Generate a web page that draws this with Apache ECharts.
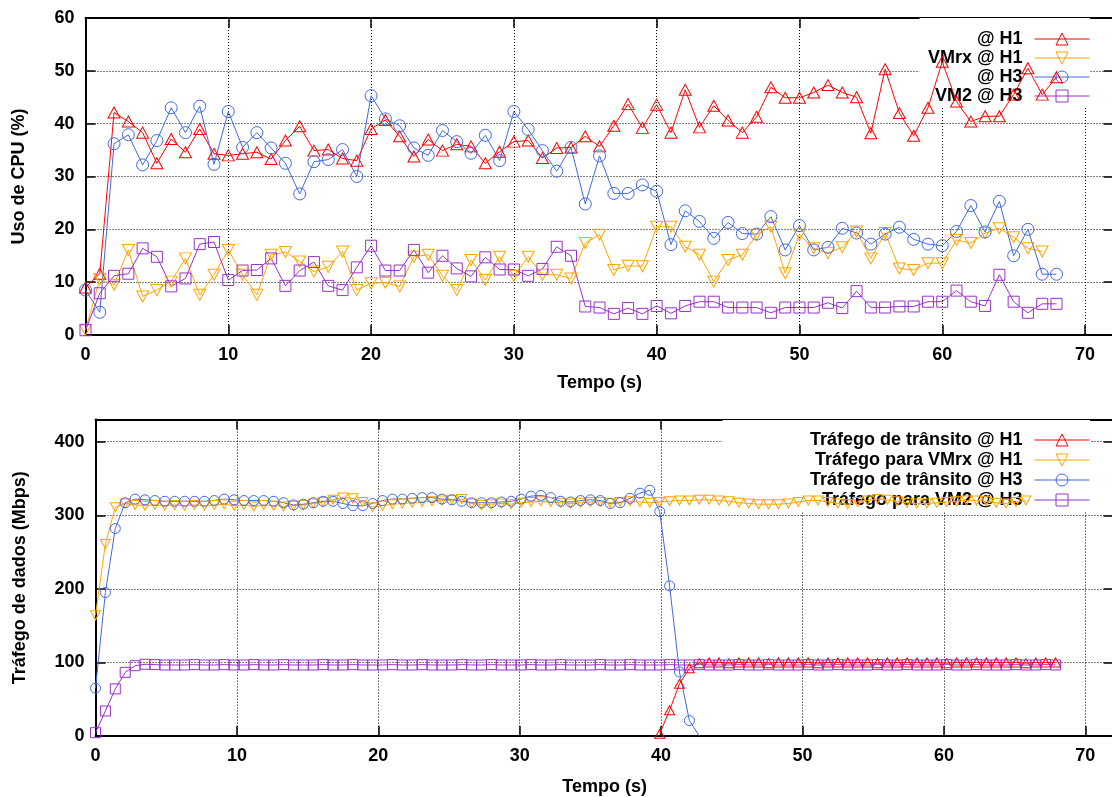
<!DOCTYPE html>
<html>
<head>
<meta charset="utf-8">
<script src="https://cdn.jsdelivr.net/npm/echarts@6/dist/echarts.min.js"></script>
<style>
  html, body { margin: 0; padding: 0; overflow: hidden; background: #fff; }
  #main { width: 1120px; height: 797px; }
</style>
</head>
<body>
<div id="main"></div>
<script>
// ---- CPU usage per second (top panel) ----
const cpuTime = [0,1,2,3,4,5,6,7,8,9,10,11,12,13,14,15,16,17,18,19,20,21,22,23,24,25,26,27,28,29,30,31,32,33,34,35,36,37,38,39,40,41,42,43,44,45,46,47,48,49,50,51,52,53,54,55,56,57,58,59,60,61,62,63,64,65,66,67,68];
const cpuH1 = [9.0,11.6,42.1,40.4,38.3,32.5,37.1,34.6,39.0,34.3,34.0,34.3,34.6,33.3,36.8,39.5,34.9,35.1,33.4,33.0,39.0,40.7,37.6,33.8,37.0,34.9,36.1,35.7,32.5,34.7,36.6,36.8,33.5,35.4,35.5,37.6,35.7,39.6,43.7,39.2,43.6,38.3,46.4,39.3,43.4,40.6,38.3,41.3,46.9,44.9,44.9,45.9,47.3,45.9,45.0,38.2,50.3,42.0,37.7,43.0,51.7,44.2,40.4,41.4,41.4,45.5,50.5,45.5,48.8];
const cpuVMrxH1 = [1.0,10.6,9.5,16.1,7.3,8.5,10.1,14.5,7.6,11.4,16.1,11.4,7.6,15.2,15.7,13.9,12.0,12.9,15.8,8.5,9.8,9.9,9.2,14.8,15.2,11.2,8.5,14.2,10.4,14.8,11.2,14.8,11.4,11.4,10.7,17.4,19.0,12.3,13.1,13.0,20.5,20.5,16.7,15.2,10.1,14.2,15.2,19.0,20.5,11.7,19.0,16.4,15.5,16.6,19.6,14.5,19.3,12.6,12.3,13.6,13.6,18.0,17.4,19.3,20.2,18.5,16.4,15.8];
const cpuH3 = [8.5,4.3,36.2,37.9,32.2,36.8,43.0,38.3,43.3,32.3,42.3,35.5,38.3,35.4,32.5,26.7,32.8,33.2,35.1,30.0,45.3,40.9,39.6,35.4,34.0,38.7,36.6,34.4,37.8,33.0,42.3,38.9,34.9,31.0,35.5,24.8,33.9,26.8,26.8,28.4,27.2,17.1,23.5,21.5,18.3,21.3,19.2,19.1,22.4,16.1,20.7,16.1,16.6,20.2,19.3,17.2,19.1,20.4,18.1,17.2,16.9,19.6,24.5,19.5,25.3,15.0,20.0,11.5,11.5];
const cpuVM2H3 = [0.9,7.9,11.2,11.6,16.4,14.8,9.2,10.7,17.2,17.6,10.4,12.2,12.3,14.5,9.3,12.2,13.8,9.3,8.5,12.8,16.9,12.2,12.2,16.1,11.8,15.0,12.6,11.1,14.7,12.4,12.4,11.2,12.5,16.7,15.0,5.4,5.2,4.0,5.1,4.0,5.5,4.1,5.5,6.3,6.3,5.2,5.2,5.2,4.2,5.2,5.2,5.2,6.1,5.1,8.3,5.2,5.2,5.4,5.4,6.3,6.3,8.4,6.3,5.5,11.4,6.3,4.2,5.9,5.9];
const cpuNames = ['@ H1', 'VMrx @ H1', '@ H3', 'VM2 @ H3'];

// ---- Data traffic (bottom panel), samples every 0.7 s ----
const trafTime = [0,0.7,1.4,2.1,2.8,3.5,4.2,4.9,5.6,6.3,7,7.7,8.4,9.1,9.8,10.5,11.2,11.9,12.6,13.3,14,14.7,15.4,16.1,16.8,17.5,18.2,18.9,19.6,20.3,21,21.7,22.4,23.1,23.8,24.5,25.2,25.9,26.6,27.3,28,28.7,29.4,30.1,30.8,31.5,32.2,32.9,33.6,34.3,35,35.7,36.4,37.1,37.8,38.5,39.2,39.9,40.6,41.3,42,42.7,43.4,44.1,44.8,45.5,46.2,46.9,47.6,48.3,49,49.7,50.4,51.1,51.8,52.5,53.2,53.9,54.6,55.3,56,56.7,57.4,58.1,58.8,59.5,60.2,60.9,61.6,62.3,63,63.7,64.4,65.1,65.8,66.5,67.2,67.9];
// transit traffic at H1 starts at sample 57
const trafTransitH1Start = 57;
const trafTransitH1 = [3,35,71,92,99,100,100,99,100,100,100,99,100,100,100,100,99,100,100,100,100,100,99,100,100,100,100,100,100,99,100,100,100,100,100,100,100,99,100,100,100];
const trafVMrxH1 = [164,261,311,316,314,313,314,313,314,313,314,313,314,315,313,314,312,314,313,312,313,314,316,318,321,324,323,318,311,313,315,316,317,318,319,320,321,322,316,314,315,316,315,317,318,319,318,317,316,317,318,318,317,318,319,318,317,318,319,320,320,321,321,320,319,317,316,315,315,315,316,318,320,320,318,316,315,318,320,322,321,319,317,316,316,317,318,319,320,320,319,317,316,318,320];
const trafTransitH3 = [65,195,282,317,322,321,320,319,319,319,319,319,320,322,321,320,320,320,319,317,314,315,317,319,319,316,313,313,316,320,322,322,323,324,324,322,321,319,317,317,317,318,319,322,326,327,324,319,318,320,321,320,316,317,323,330,334,305,204,87,21,0];
const trafVM2H3 = [4.5,34,64,86.5,95.5,97.5,97,96.5,96.5,96.5,97,96.5,96.5,97,96.5,96.5,97,96.5,96.5,97,96.5,96.5,96.5,97,96.5,96.5,97,96.5,96.5,96.5,97,96.5,96.5,97,96.5,96.5,96.5,97,96.5,96.5,97,96.5,96.5,96.5,97,96.5,96.5,97,96.5,96.5,96.5,97,96.5,96.5,97,96.5,96.5,96.5,97,96.5,96.5,97,96.5,96.5,96.5,97,96.5,96.5,97,96.5,96.5,96.5,97,96.5,96.5,97,96.5,96.5,96.5,97,96.5,96.5,97,96.5,96.5,96.5,97,96.5,96.5,97,96.5,96.5,96.5,97,96.5,96.5,97,96.5];
const trafNames = ['Tráfego de trânsito @ H1', 'Tráfego para VMrx @ H1', 'Tráfego de trânsito @ H3', 'Tráfego para VM2 @ H3'];

const FONT = '"Liberation Sans", Arial, Helvetica, sans-serif';
const RED = '#ff0000', ORANGE = '#ffa500', BLUE = '#4169e1', PURPLE = '#9932cc';
const COLORS = [RED, ORANGE, BLUE, PURPLE];

const textBase = { color: '#000', fontFamily: FONT, fontSize: 18, fontWeight: 'bold' };
const dotted = { show: true, lineStyle: { color: '#000', width: 1, type: [1, 2] } };

function xAxisPair(gridIndex, interval, max, gap) {
  const common = {
    type: 'value', gridIndex, min: 0, max, interval,
    axisLine: { show: true, onZero: false, lineStyle: { color: '#000', width: 2 } },
    axisTick: { show: true, inside: true, length: 10, lineStyle: { color: '#000', width: 1.5 } }
  };
  return [
    Object.assign({}, common, {
      position: 'bottom',
      axisLabel: Object.assign({ margin: 11, showMaxLabel: false }, textBase),
      splitLine: dotted,
      name: 'Tempo (s)', nameLocation: 'middle', nameGap: gap,
      nameTextStyle: textBase
    }),
    Object.assign({}, common, {
      position: 'top', axisLabel: { show: false }, splitLine: { show: false }
    })
  ];
}

function yAxisPair(gridIndex, interval, max, title, gap) {
  const common = {
    type: 'value', gridIndex, min: 0, max, interval,
    axisLine: { show: true, onZero: false, lineStyle: { color: '#000', width: 2 } },
    axisTick: { show: true, inside: true, length: 10, lineStyle: { color: '#000', width: 1.5 } }
  };
  return [
    Object.assign({}, common, {
      position: 'left',
      axisLabel: Object.assign({ margin: 11, showMaxLabel: max % interval === 0 }, textBase),
      splitLine: dotted,
      name: title, nameLocation: 'middle', nameGap: gap, nameRotate: 90,
      nameTextStyle: textBase
    }),
    Object.assign({}, common, {
      position: 'right', axisLabel: { show: false }, splitLine: { show: false }
    })
  ];
}

function series(name, xs, ys, color, symbol, size, rotate, axisIdx, hideLast) {
  const data = ys.map((v, i) => {
    const item = { value: [xs[i], v] };
    if (hideLast && i === ys.length - 1) item.symbol = 'none';
    return item;
  });
  return {
    name, type: 'line', xAxisIndex: axisIdx, yAxisIndex: axisIdx,
    data, symbol, symbolSize: size, symbolRotate: rotate,
    showSymbol: true, clip: true, color,
    lineStyle: { color, width: 1 },
    itemStyle: { color: 'transparent', borderColor: color, borderWidth: 1 },
    emphasis: { disabled: true },
    animation: false
  };
}

function legend(names, top, textWidth, padTop, gap) {
  return {
    data: names.map((n, i) => ({
      name: n,
      lineStyle: { color: COLORS[i], width: 1 },
      itemStyle: { color: 'transparent', borderColor: COLORS[i], borderWidth: 1 }
    })),
    orient: 'vertical', right: 30, top, z: 1,
    align: 'right', backgroundColor: '#fff', padding: [padTop, 0, 3, 0],
    itemWidth: 55, itemHeight: 15, itemGap: gap, selectedMode: false,
    formatter: '{t|{name}}',
    textStyle: Object.assign({}, textBase, {
      rich: { t: Object.assign({ width: textWidth, align: 'right', padding: [0, 7, 0, 0], lineHeight: 19 }, textBase) }
    })
  };
}

const trafTransitH1Time = trafTime.slice(trafTransitH1Start, trafTransitH1Start + trafTransitH1.length);

const xa = xAxisPair(0, 10, 72, 39).concat(xAxisPair(1, 10, 72, 42));
const ya = yAxisPair(0, 10, 60, 'Uso de CPU (%)', 57).concat(yAxisPair(1, 100, 430, 'Tráfego de dados (Mbps)', 66));

const option = {
  backgroundColor: '#fff',
  animation: false,
  grid: [
    { left: 85.5, top: 18, width: 1028.1, height: 317 },
    { left: 95.5, top: 419.6, width: 1018.1, height: 316.4 }
  ],
  xAxis: xa,
  yAxis: ya,
  legend: [
    legend(cpuNames, 18, 103, 12, 1),
    legend(trafNames, 420, 300, 11, 2)
  ],
  series: [
    series(cpuNames[0], cpuTime, cpuH1, RED, 'triangle', [12, 11], 0, 0),
    series(cpuNames[1], cpuTime, cpuVMrxH1, ORANGE, 'triangle', [12, 11], 180, 0),
    series(cpuNames[2], cpuTime, cpuH3, BLUE, 'circle', 12, 0, 0),
    series(cpuNames[3], cpuTime, cpuVM2H3, PURPLE, 'rect', 11, 0, 0),
    series(trafNames[0], trafTransitH1Time, trafTransitH1, RED, 'triangle', [10, 9], 0, 2),
    series(trafNames[1], trafTime, trafVMrxH1, ORANGE, 'triangle', [10, 9], 180, 2),
    series(trafNames[2], trafTime, trafTransitH3, BLUE, 'circle', 10, 0, 2, true),
    series(trafNames[3], trafTime, trafVM2H3, PURPLE, 'rect', 10, 0, 2)
  ]
};

const chart = echarts.init(document.getElementById('main'), null, { renderer: 'canvas' });
chart.setOption(option);
</script>
</body>
</html>
